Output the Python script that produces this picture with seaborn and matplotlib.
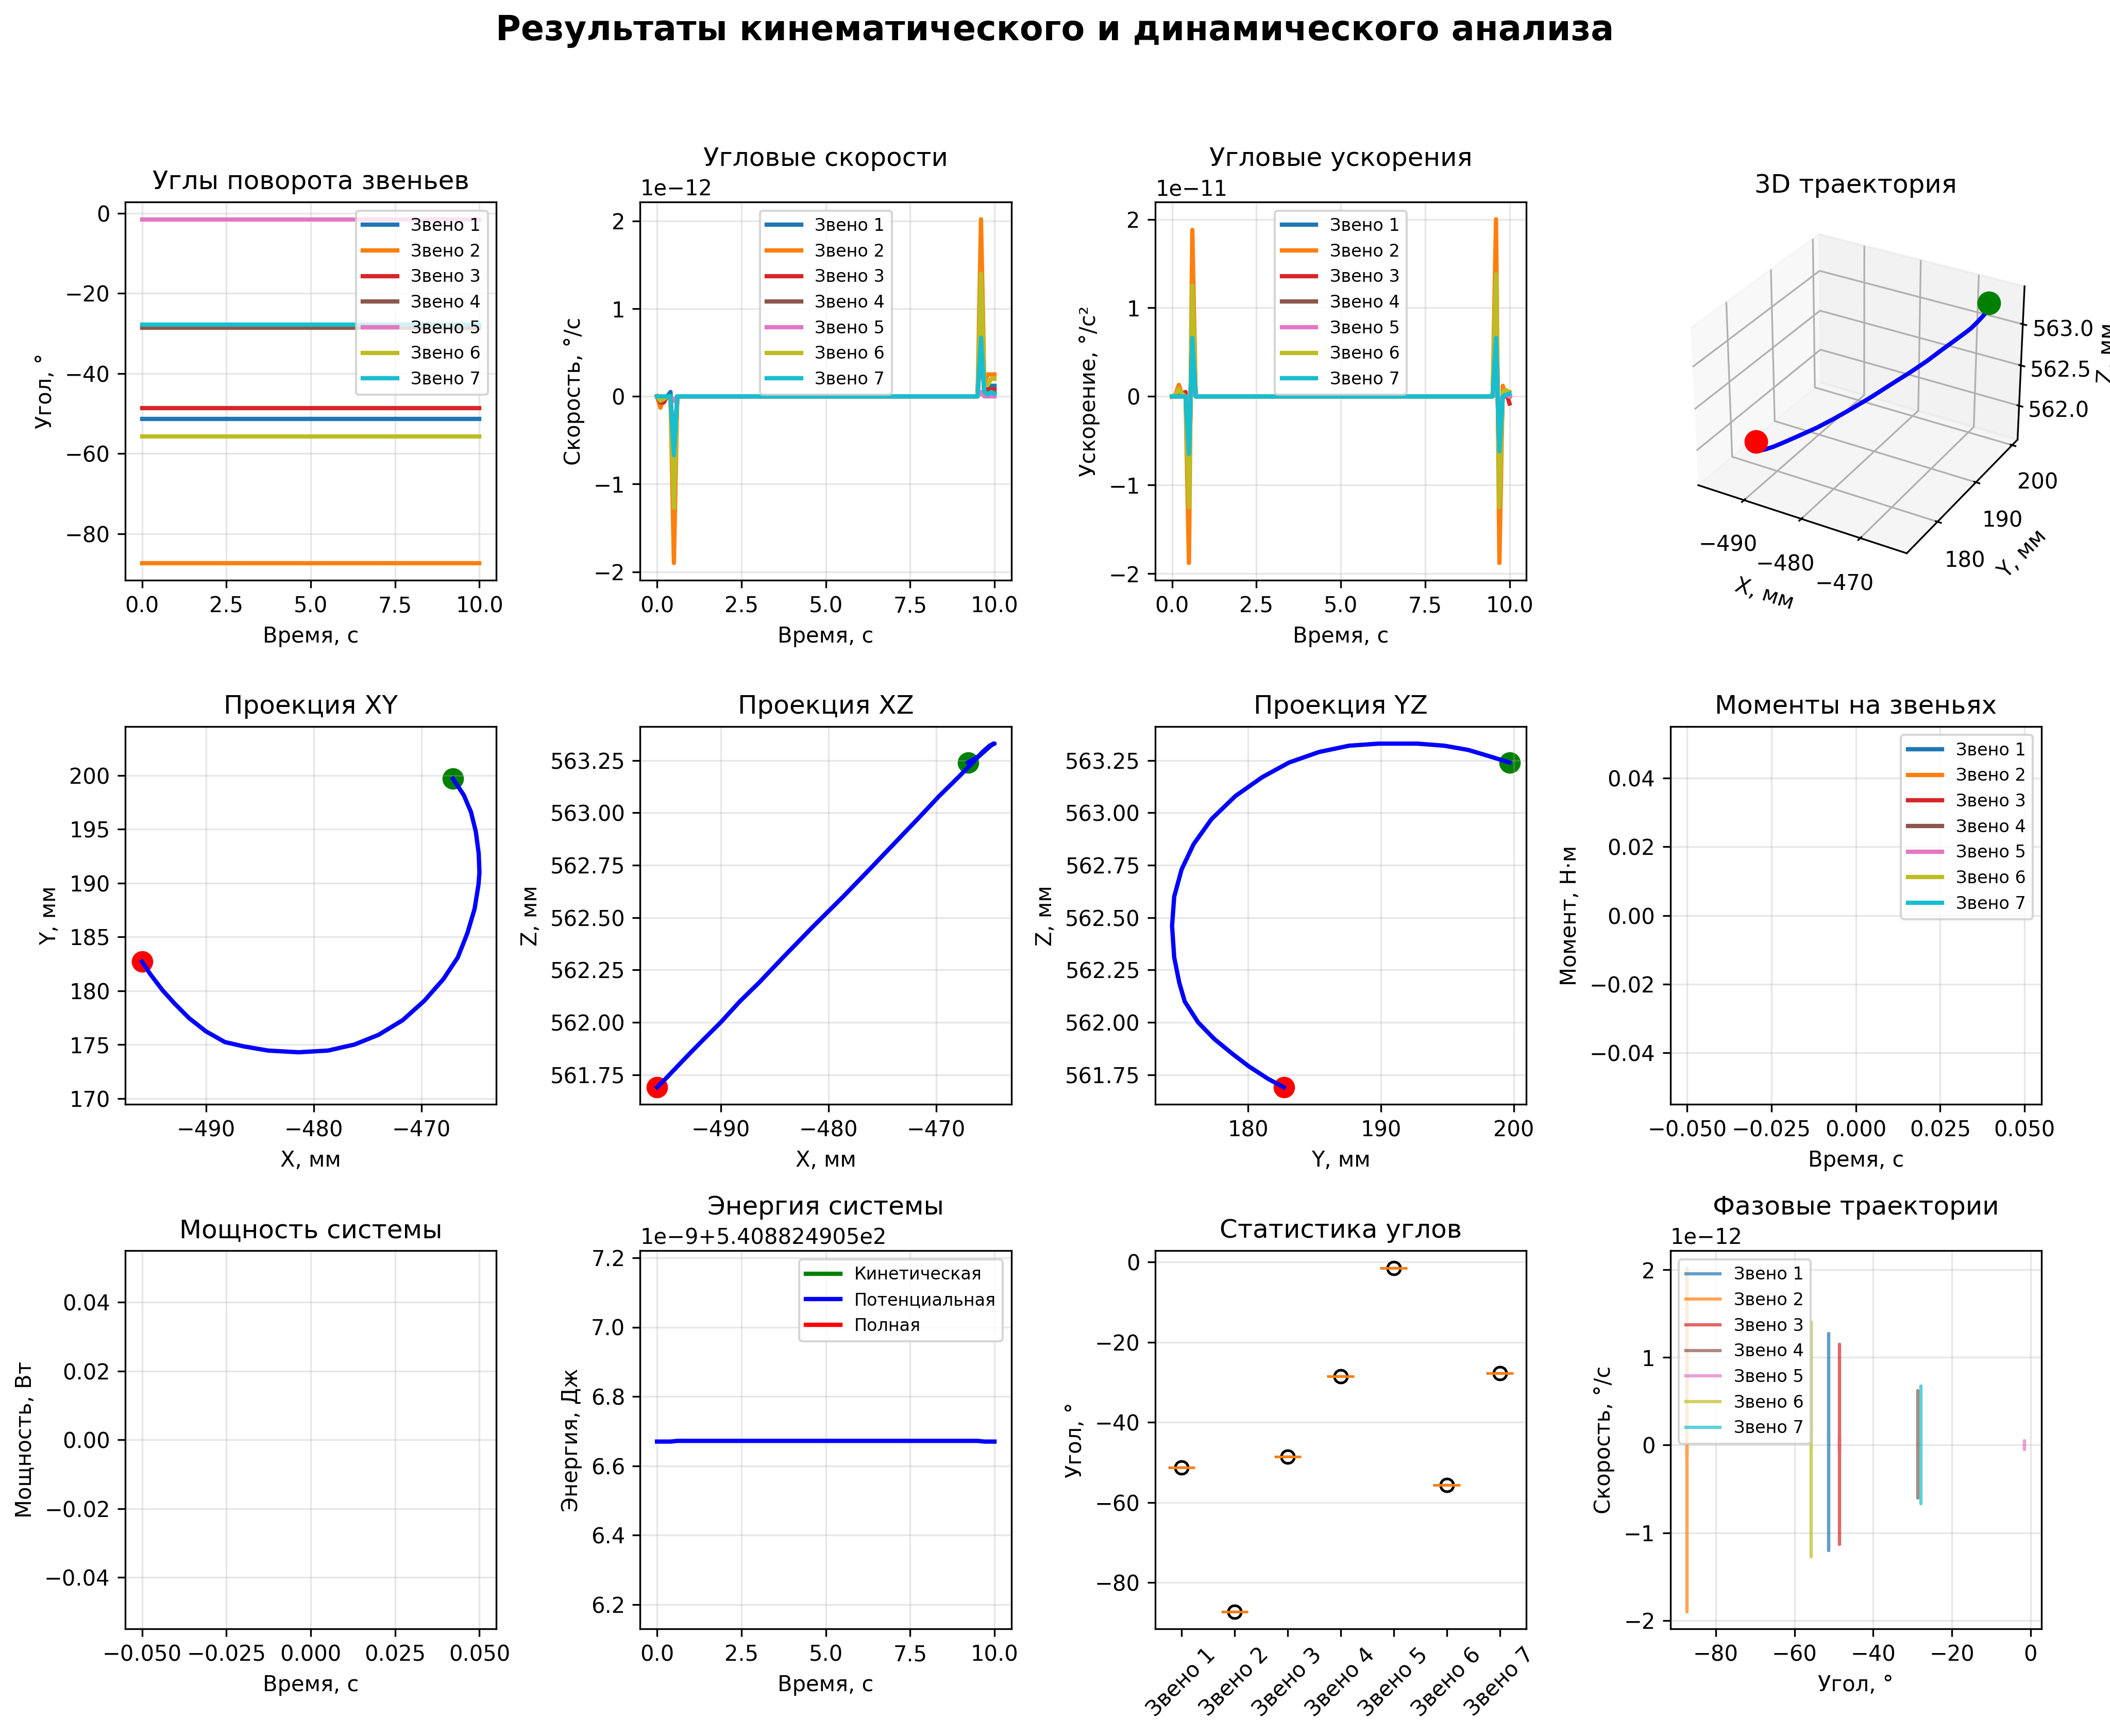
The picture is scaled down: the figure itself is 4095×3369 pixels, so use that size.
import numpy as np
import pandas as pd
import matplotlib
matplotlib.use("Agg")
import matplotlib.pyplot as plt
import seaborn as sns

plt.rcParams['font.family'] = ['DejaVu Sans']

# ---------------- data ----------------
link_names = ['Звено 1', 'Звено 2', 'Звено 3', 'Звено 4', 'Звено 5', 'Звено 6', 'Звено 7']
link_colors = ['#1f77b4', '#ff7f0e', '#d62728', '#8c564b', '#e377c2', '#bcbd22', '#17becf']
angle_values = [-51.3, -87.3, -48.6, -28.6, -1.5, -55.7, -27.8]

time = np.round(np.arange(101) * 0.1, 1)  # 0 .. 10 s, step 0.1 s

# angular velocity, units 1e-12 deg/s; t = 0.0..0.7 and t = 9.5..10.0, zero elsewhere
vel_start = [
    [0, 0.00, 0.00, 0, 0.05, -1.20, 0, 0],
    [0, -0.13, -0.02, 0, 0.00, -1.90, 0, 0],
    [0, -0.07, -0.07, 0, 0.00, -1.13, 0, 0],
    [0, 0.00, 0.00, 0, 0.00, -0.60, 0, 0],
    [0, 0.00, 0.00, 0, 0.00, -0.05, 0, 0],
    [0, -0.05, -0.03, 0, 0.00, -1.27, 0, 0],
    [0, 0.00, 0.00, 0, 0.00, -0.67, 0, 0],
]
vel_end = [
    [0, 1.27, 0.05, 0.12, 0.12, 0.12],
    [0, 2.02, 0.15, 0.25, 0.25, 0.25],
    [0, 1.15, 0.02, 0.08, 0.08, 0.08],
    [0, 0.62, 0.02, 0.04, 0.04, 0.04],
    [0, 0.05, 0.00, 0.00, 0.00, 0.00],
    [0, 1.40, 0.12, 0.13, 0.20, 0.20],
    [0, 0.67, 0.05, 0.02, 0.05, 0.03],
]
# angular acceleration, units 1e-11 deg/s^2
acc_start = [
    [0, 0.00, 0.00, 0.02, 0.02, -1.20, 1.20, 0],
    [0, 0.02, 0.13, 0.02, 0.00, -1.88, 1.88, 0],
    [0, 0.00, 0.05, 0.03, 0.05, -1.13, 1.13, 0],
    [0, 0.00, 0.00, 0.00, 0.00, -0.60, 0.60, 0],
    [0, 0.00, 0.00, 0.00, 0.00, -0.05, 0.05, 0],
    [0, 0.02, 0.08, 0.03, 0.00, -1.25, 1.25, 0],
    [0, 0.00, 0.00, 0.00, 0.00, -0.65, 0.66, 0],
]
acc_end = [
    [0, 1.27, -1.20, 0.05, 0.00, 0.01],
    [0, 2.00, -1.88, 0.12, 0.00, 0.02],
    [0, 1.15, -1.10, 0.05, 0.05, -0.08],
    [0, 0.62, -0.60, 0.02, 0.00, 0.00],
    [0, 0.05, -0.05, 0.00, 0.02, 0.00],
    [0, 1.38, -1.25, 0.05, 0.07, 0.05],
    [0, 0.66, -0.62, 0.00, 0.02, 0.03],
]

# end-effector trajectory, mm
traj_x = [-495.93, -495.15, -494.04, -492.92, -491.58, -490.02, -488.24, -486.45, -484.23,
          -481.39, -478.65, -476.20, -473.97, -471.74, -469.73, -467.95, -466.61, -465.72,
          -465.05, -464.69, -464.60, -464.67, -464.94, -465.38, -466.05, -467.06]
traj_y = [182.70, 181.53, 180.07, 178.83, 177.48, 176.25, 175.24, 174.83, 174.45,
          174.29, 174.45, 175.01, 175.91, 177.26, 179.06, 181.08, 183.10, 185.35,
          187.60, 189.84, 190.97, 192.76, 194.79, 196.58, 198.16, 199.69]
traj_z = [561.69, 561.73, 561.79, 561.85, 561.92, 562.00, 562.10, 562.19, 562.31,
          562.46, 562.60, 562.73, 562.85, 562.97, 563.08, 563.17, 563.24, 563.29,
          563.32, 563.33, 563.33, 563.33, 563.32, 563.30, 563.27, 563.24]

# energy (J): offset + value * 1e-9
energy_offset = 540.8824905
potential_start_nano = [6.670, 6.670, 6.670, 6.670, 6.670, 6.671, 6.672]
potential_mid_nano = 6.672
potential_end_nano = [6.672, 6.671, 6.670, 6.670, 6.670, 6.670]
energy_ylim_nano = [6.13, 7.22]

# moments / power: only a single sample at t = 0
moment_time = [0.0]
moment_values = [[0.0] for _ in range(7)]
power_time = [0.0]
power_values = [0.0]

# ---------------- build series ----------------
n = len(time)
vel = np.zeros((7, n))
acc = np.zeros((7, n))
vel[:, :8] = vel_start
vel[:, 95:] = vel_end
acc[:, :8] = acc_start
acc[:, 95:] = acc_end
vel = vel * 1e-12
acc = acc * 1e-11
angle_series = np.array([angle_values[i] + np.cumsum(vel[i]) * 0.1 for i in range(7)])

pot_nano = np.full(n, potential_mid_nano)
pot_nano[:7] = potential_start_nano
pot_nano[95:] = potential_end_nano
potential = energy_offset + pot_nano * 1e-9
kinetic = np.full(n, np.nan)
total = np.full(n, np.nan)

# ---------------- figure ----------------
fig = plt.figure(figsize=(13.65, 11.23), dpi=300)
axes = []
for k in range(12):
    if k == 3:
        axes.append(fig.add_subplot(3, 4, k + 1, projection='3d'))
    else:
        axes.append(fig.add_subplot(3, 4, k + 1))
fig.subplots_adjust(left=0.0593, right=0.9675, bottom=0.0617, top=0.8836,
                    wspace=0.3875, hspace=0.387)
fig.suptitle('Результаты кинематического и динамического анализа',
             fontsize=16, fontweight='bold', y=0.992)

LEG = 8

# 1. angles
ax = axes[0]
for i in range(7):
    sns.lineplot(x=time, y=angle_series[i], ax=ax, color=link_colors[i], lw=2,
                 label=link_names[i], estimator=None)
ax.set_title('Углы поворота звеньев', fontsize=12)
ax.set_xlabel('Время, с')
ax.set_ylabel('Угол, °')
ax.legend(fontsize=LEG, loc='upper right')
ax.grid(True, alpha=0.3)

# 2. velocities
ax = axes[1]
for i in range(7):
    sns.lineplot(x=time, y=vel[i], ax=ax, color=link_colors[i], lw=2,
                 label=link_names[i], estimator=None)
ax.set_title('Угловые скорости', fontsize=12)
ax.set_xlabel('Время, с')
ax.set_ylabel('Скорость, °/с')
ax.legend(fontsize=LEG, loc='upper center')
ax.grid(True, alpha=0.3)

# 3. accelerations
ax = axes[2]
for i in range(7):
    sns.lineplot(x=time, y=acc[i], ax=ax, color=link_colors[i], lw=2,
                 label=link_names[i], estimator=None)
ax.set_title('Угловые ускорения', fontsize=12)
ax.set_xlabel('Время, с')
ax.set_ylabel('Ускорение, °/с²')
ax.legend(fontsize=LEG, loc='upper center')
ax.grid(True, alpha=0.3)

# 4. 3D trajectory
ax = axes[3]
ax.plot(traj_x, traj_y, traj_z, color='blue', lw=2)
ax.scatter([traj_x[0]], [traj_y[0]], [traj_z[0]], color='red', s=100)
ax.scatter([traj_x[-1]], [traj_y[-1]], [traj_z[-1]], color='green', s=100)
ax.set_xlabel('X, мм')
ax.set_ylabel('Y, мм')
ax.set_zlabel('Z, мм')
ax.set_title('3D траектория', fontsize=12)

# 5-7. projections
proj = [
    (axes[4], traj_x, traj_y, 'Проекция XY', 'X, мм', 'Y, мм'),
    (axes[5], traj_x, traj_z, 'Проекция XZ', 'X, мм', 'Z, мм'),
    (axes[6], traj_y, traj_z, 'Проекция YZ', 'Y, мм', 'Z, мм'),
]
for ax, a, b, title, xl, yl in proj:
    sns.scatterplot(x=[a[0]], y=[b[0]], ax=ax, color='red', s=100, linewidth=0)
    sns.scatterplot(x=[a[-1]], y=[b[-1]], ax=ax, color='green', s=100, linewidth=0)
    sns.lineplot(x=a, y=b, ax=ax, color='blue', lw=2, sort=False, estimator=None)
    ax.set_title(title, fontsize=12)
    ax.set_xlabel(xl)
    ax.set_ylabel(yl)
    ax.grid(True, alpha=0.3)
axes[4].axis('equal')

# 8. moments
ax = axes[7]
for i in range(7):
    sns.lineplot(x=moment_time, y=moment_values[i], ax=ax, color=link_colors[i], lw=2,
                 label=link_names[i], estimator=None)
ax.set_title('Моменты на звеньях', fontsize=12)
ax.set_xlabel('Время, с')
ax.set_ylabel('Момент, Н·м')
ax.legend(fontsize=LEG, loc='upper right')
ax.grid(True, alpha=0.3)

# 9. power
ax = axes[8]
sns.lineplot(x=power_time, y=power_values, ax=ax, color='purple', lw=2, estimator=None)
ax.set_title('Мощность системы', fontsize=12)
ax.set_xlabel('Время, с')
ax.set_ylabel('Мощность, Вт')
ax.grid(True, alpha=0.3)

# 10. energy
ax = axes[9]
ax.plot(time, kinetic, color='green', lw=2, label='Кинетическая')
sns.lineplot(x=time, y=potential, ax=ax, color='blue', lw=2, label='Потенциальная',
             estimator=None)
ax.plot(time, total, color='red', lw=2, label='Полная')
ax.set_ylim(energy_offset + energy_ylim_nano[0] * 1e-9,
            energy_offset + energy_ylim_nano[1] * 1e-9)
ax.set_title('Энергия системы', fontsize=12)
ax.set_xlabel('Время, с')
ax.set_ylabel('Энергия, Дж')
ax.legend(fontsize=LEG, loc='upper right')
ax.grid(True, alpha=0.3)

# 11. angle statistics
ax = axes[10]
stats_df = pd.DataFrame({
    'link': np.repeat(link_names, n),
    'angle': angle_series.ravel(),
})
sns.boxplot(data=stats_df, x='link', y='angle', ax=ax, color='white', linecolor='black',
            width=0.5, linewidth=1,
            medianprops={'color': '#ff7f0e', 'linewidth': 1.2},
            flierprops={'marker': 'o', 'markerfacecolor': 'none',
                        'markeredgecolor': 'black', 'markersize': 6})
ax.set_title('Статистика углов', fontsize=12)
ax.set_xlabel('')
ax.set_ylabel('Угол, °')
ax.tick_params(axis='x', rotation=45)
ax.yaxis.grid(True, alpha=0.3)
ax.xaxis.grid(False)

# 12. phase trajectories
ax = axes[11]
for i in range(7):
    sns.lineplot(x=angle_series[i], y=vel[i], ax=ax, color=link_colors[i], lw=1.5,
                 alpha=0.7, label=link_names[i], sort=False, estimator=None)
ax.set_title('Фазовые траектории', fontsize=12)
ax.set_xlabel('Угол, °')
ax.set_ylabel('Скорость, °/с')
ax.legend(fontsize=LEG, loc='upper left')
ax.grid(True, alpha=0.3)

fig.savefig('out.png', dpi=300)
